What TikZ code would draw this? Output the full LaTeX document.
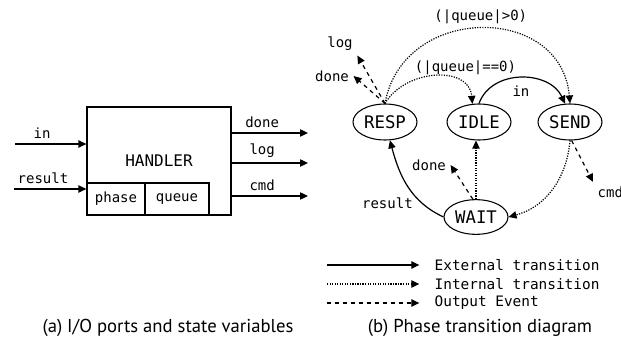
\documentclass[tikz,border=0pt]{standalone}
\usepackage{fontspec}
\setmainfont{PT Sans}
\setmonofont{DejaVu Sans Mono}
\usetikzlibrary{arrows.meta,positioning,shapes.geometric}

\tikzset{
  state/.style={ellipse,draw,line width=0.8pt,minimum width=48pt,minimum height=27pt,inner sep=1pt,font=\ttfamily\fontsize{13}{13}\selectfont},
  port/.style={font=\ttfamily\fontsize{10.5}{11}\selectfont},
  extev/.style={->,line width=0.9pt},
  intev/.style={->,line width=0.9pt,densely dotted},
  outev/.style={->,line width=0.9pt,dashed},
}

\begin{document}
\begin{tikzpicture}[x=0.75pt,y=-0.75pt,>={Triangle[length=6pt,width=5.5pt]}]
  \useasboundingbox (0,0) rectangle (621,345);
  \node[draw,line width=0.9pt,minimum width=108pt,minimum height=81pt,font=\ttfamily\fontsize{12}{12}\selectfont] (hdl) at (159,161) {HANDLER};
  \node[draw,line width=0.9pt,minimum width=43.5pt,minimum height=24pt,inner sep=0pt,font=\ttfamily\fontsize{10.5}{11}\selectfont] (phase) at (116,199) {phase};
  \node[draw,line width=0.9pt,minimum width=48pt,minimum height=24pt,inner sep=0pt,font=\ttfamily\fontsize{10.5}{11}\selectfont] (queue) at (177,199) {queue};
  \coordinate (inS) at (15,144);
  \coordinate (resS) at (14,189);
  \coordinate (doneE) at (308,133);
  \coordinate (logE) at (308,163);
  \coordinate (cmdE) at (308,196);
  \draw[extev] (inS) -- node[port,above,pos=0.38] {in} (inS -| hdl.west);
  \draw[extev] (resS) -- node[port,above,pos=0.4] {result} (resS -| hdl.west);
  \draw[extev] (doneE -| hdl.east) -- node[port,above,pos=0.4] {done} (doneE);
  \draw[extev] (logE -| hdl.east) -- node[port,above,pos=0.4] {log} (logE);
  \draw[extev] (cmdE -| hdl.east) -- node[port,above,pos=0.4] {cmd} (cmdE);
  \node[font=\fontsize{14}{14}\selectfont] (capA) at (168,328) {(a) I/O ports and state variables};

  \node[state] (resp) at (385,122) {RESP};
  \node[state] (idle) at (479,122) {IDLE};
  \node[state] (send) at (570,122) {SEND};
  \node[state,minimum height=26pt] (wait) at (476,217) {WAIT};
  \node[port] (logR) at (340,44) {log};
  \node[port] (doneR) at (332,76) {done};
  \node[port] (doneW) at (429,165) {done};
  \node[port,anchor=west] (cmdS) at (593,192) {cmd};
  \draw[intev] (resp.north) to[out=60,in=95,looseness=1.15] node[port,above,pos=0.72,xshift=6pt,yshift=1pt] {(|queue|==0)} (idle.110);
  \draw[intev] (resp.north) to[out=80,in=95,looseness=1.4] node[port,above] {(|queue|>0)} (send.north);
  \draw[extev] (idle.north) to[out=70,in=115,looseness=1.1] node[port,below,pos=0.5,yshift=-2pt] {in} (send.105);
  \draw[outev] (resp.north) -- (logR.south east);
  \draw[outev] (resp.north) -- (doneR.east);
  \draw[extev] (wait.west) to[out=155,in=-75] node[port,left,pos=0.3,xshift=-1pt,yshift=-2pt] {result} (resp.-75);
  \draw[intev] (wait.north) -- (wait.north |- idle.south);
  \draw[outev] (wait.100) -- (doneW.east);
  \draw[intev] (send.south) to[out=-95,in=15] (wait.east);
  \draw[outev] (send.-85) -- (cmdS.north west);

  \coordinate (lgA) at (327,265);
  \coordinate (lgB) at (327,284);
  \coordinate (lgC) at (327,303);
  \node[anchor=west,font=\ttfamily\fontsize{10.8}{11}\selectfont] (txA) at (430,265) {External transition};
  \node[anchor=west,font=\ttfamily\fontsize{10.8}{11}\selectfont] (txB) at (430,284) {Internal transition};
  \node[anchor=west,font=\ttfamily\fontsize{10.8}{11}\selectfont] (txC) at (430,303) {Output Event};
  \draw[extev,shorten >=8pt] (lgA) -- (txA.west);
  \draw[intev,shorten >=8pt] (lgB) -- (txB.west);
  \draw[outev,shorten >=8pt] (lgC) -- (txC.west);
  \node[font=\fontsize{14}{14}\selectfont] (capB) at (480,328) {(b) Phase transition diagram};
\end{tikzpicture}
\end{document}
